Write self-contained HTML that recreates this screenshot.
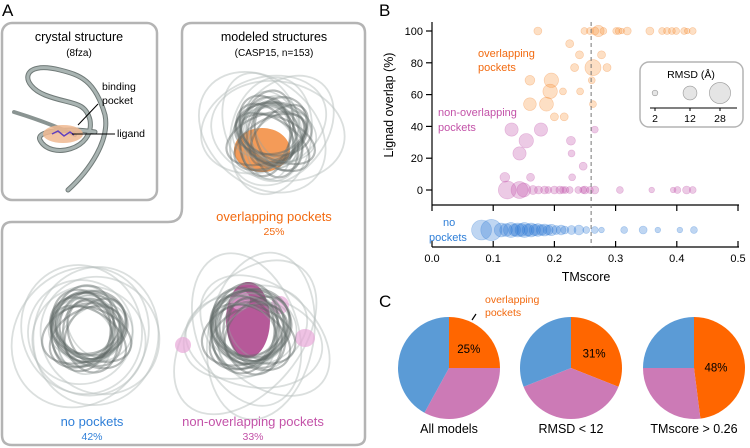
<!DOCTYPE html>
<html><head><meta charset="utf-8"><style>
body{margin:0;background:#fff;}
svg{display:block;font-family:"Liberation Sans",Arial,sans-serif;}
</style></head><body>
<svg id="fig" width="750" height="448" viewBox="0 0 750 448">
<text x="2" y="16" font-size="17">A</text>
<rect x="2" y="23" width="155" height="177" rx="10" fill="none" stroke="#b4b4b4" stroke-width="2.5"/>
<path d="M192,23 H355 Q365,23 365,33 V437 Q365,445 355,445 H12 Q2,445 2,435 V232 Q2,222 12,222 H168 Q182,222 182,208 V33 Q182,23 192,23 Z" fill="none" stroke="#b4b4b4" stroke-width="2.5"/>
<text x="79" y="41" font-size="12.5" text-anchor="middle">crystal structure</text>
<text x="79" y="56" font-size="10" text-anchor="middle">(8fza)</text>
<text x="274" y="41" font-size="12.5" text-anchor="middle">modeled structures</text>
<text x="274" y="56" font-size="10" text-anchor="middle">(CASP15, n=153)</text>
<g fill="none" stroke-linecap="round">
<path d="M68,190 C90,170 110,140 105,115 C95,80 80,75 60,70 C20,60 20,85 45,95 C70,105 85,100 90,120 C95,150 50,160 40,140 C35,130 70,128 95,132" stroke="#707a78" stroke-width="5"/>
<path d="M68,190 C90,170 110,140 105,115 C95,80 80,75 60,70 C20,60 20,85 45,95 C70,105 85,100 90,120 C95,150 50,160 40,140 C35,130 70,128 95,132" stroke="#a9b4b2" stroke-width="3"/>
<path d="M14,112 C40,120 60,128 75,135" stroke="#8a9492" stroke-width="4"/>
</g>
<ellipse cx="63" cy="134" rx="20" ry="9" fill="#f0b890" opacity="0.85"/>
<path d="M52,134 L58,131 L64,136 L70,132 L74,135" stroke="#6040c0" stroke-width="1.5" fill="none"/>
<line x1="78" y1="125" x2="98" y2="104" stroke="#000" stroke-width="1"/>
<line x1="72" y1="134" x2="115" y2="134" stroke="#000" stroke-width="1"/>
<text x="102" y="90" font-size="10.5">binding</text>
<text x="102" y="104" font-size="10.5">pocket</text>
<text x="117" y="137" font-size="10.5">ligand</text>
<g id="bundles"></g>
<text x="274" y="221" font-size="13" fill="#f26a10" text-anchor="middle">overlapping pockets</text>
<text x="274" y="235" font-size="10.5" fill="#f26a10" text-anchor="middle">25%</text>
<text x="92" y="426" font-size="13" fill="#2f7fd8" text-anchor="middle">no pockets</text>
<text x="92" y="440" font-size="10.5" fill="#2f7fd8" text-anchor="middle">42%</text>
<text x="253" y="426" font-size="13" fill="#c352a8" text-anchor="middle">non-overlapping pockets</text>
<text x="253" y="440" font-size="10.5" fill="#c352a8" text-anchor="middle">33%</text>

<text x="379" y="16" font-size="17">B</text>
<g id="scatter"></g>
<text x="379" y="307" font-size="17">C</text>
<g id="pies"></g>
<text x="485" y="303" font-size="10.5" fill="#f26a10">overlapping</text>
<text x="485" y="316" font-size="10.5" fill="#f26a10">pockets</text>
<line x1="472" y1="320" x2="476" y2="314" stroke="#000" stroke-width="1.2"/>
</svg>
<script>
const NS="http://www.w3.org/2000/svg";
function mk(tag,attrs,parent){const e=document.createElementNS(NS,tag);for(const k in attrs)e.setAttribute(k,attrs[k]);parent.appendChild(e);return e;}

const bg=document.getElementById('bundles');
// decorative bundles: [cx, cy, rx, ry]
const bundleDefs=[[272,135,38,55],[88,330,45,55],[250,330,48,58]];
// faint loose loops
const looseDefs=[[272,130,50,70],[90,335,70,65],[255,335,85,55]];
looseDefs.forEach(function(b){
  for(let k=0;k<6;k++){
    const p=mk('ellipse',{cx:b[0]+(k%3-1)*8,cy:b[1]+(k%2?6:-6),rx:b[2]*(0.75+0.06*k),ry:b[3]*(0.8+0.04*k),fill:'none',stroke:'#b8c0be','stroke-width':1.8,opacity:0.5,transform:'rotate('+(k*30-20)+' '+b[0]+' '+b[1]+')'},bg);
    
    
  }
});
const blobs=[[262,150,28,22,'#f07a20',0.75],[248,320,22,38,'#a4307f',0.8],[240,300,10,10,'#e8a8d8',0.7],[280,305,9,9,'#e8a8d8',0.7],[183,345,8,8,'#e8a8d8',0.7],[305,338,10,9,'#e8a8d8',0.7]];
blobs.forEach(function(b){
  const bl=mk('ellipse',{cx:b[0],cy:b[1],rx:b[2],ry:b[3],fill:b[4],opacity:b[5]},bg);
  
  
});
bundleDefs.forEach(function(b){
  for(let k=0;k<22;k++){
    const a=k*0.7, rx=b[2]*(0.55+0.025*(k%8)), ry=b[3]*(0.6+0.03*(k%6));
    const p=mk('ellipse',{cx:b[0]+Math.cos(a)*7,cy:b[1]+Math.sin(a)*7,rx:rx,ry:ry,fill:'none',stroke:k%3?'#5f6967':'#98a2a0','stroke-width':k%3?2.2:1.6,opacity:k%3?0.45:0.4,transform:'rotate('+(k*9-30)+' '+b[0]+' '+b[1]+')'},bg);
    
    
  }
});

const tmOrange=[0.173,0.249,0.258,0.266,0.272,0.280,0.301,0.305,0.310,0.319,0.356,0.376,0.384,0.392,0.399,0.412,0.417,0.426,0.225,0.241,0.277,0.233,0.263,0.286,0.160,0.195,0.261,0.193,0.214,0.242,0.160,0.187,0.263,0.200,0.216];
const ovOrange=[100,100,100,100,100,100,100,100,100,100,100,100,100,100,100,100,100,100,92,85,85,77,77,77,69,69,69,62,62,62,54,54,54,46,46];
const rmsdOrange=[4,3,3,4,8,3,3,3,2,4,4,3,3,3,3,3,2,3,4,4,4,4,16,4,6,13,3,13,3,3,10,12,3,4,4];
const tmPink=[0.130,0.178,0.266,0.154,0.227,0.143,0.228,0.247,0.119,0.161,0.229,0.123,0.143,0.150,0.165,0.174,0.184,0.190,0.200,0.209,0.214,0.218,0.225,0.239,0.247,0.250,0.258,0.266,0.307,0.359,0.394,0.401,0.416,0.426];
const ovPink=[38,38,38,31,31,23,23,15,8,8,8,0,0,0,0,0,0,0,0,0,0,0,0,0,0,0,0,0,0,0,0,0,0,0];
const rmsdPink=[11,11,3,13,5,11,3,4,6,4,3,20,18,12,5,4,4,3,4,4,3,3,3,3,3,4,3,4,3,2,2,3,4,3];
const tmBlue=[0.081,0.097,0.113,0.121,0.129,0.135,0.140,0.146,0.151,0.157,0.162,0.168,0.173,0.179,0.184,0.190,0.195,0.203,0.211,0.217,0.228,0.240,0.252,0.266,0.277,0.314,0.345,0.369,0.405,0.428];
const rmsdBlue=[25,28,12,10,14,9,12,10,14,9,12,8,10,7,9,6,8,5,6,4,5,6,3,3,2,3,4,2,2,3];
const xTicks=[0,0.1,0.2,0.3,0.4,0.5];
const yTicks=[0,20,40,60,80,100];
const legendVals=[2,12,28];
const tmThreshold=0.26;

const X=t=>432+t*612, Y=v=>190-v*1.59, R=r=>2*Math.sqrt(r);
const sg=document.getElementById('scatter');
let e=mk('line',{x1:432,y1:22,x2:432,y2:205,stroke:'#000','stroke-width':1.2},sg);

e=mk('line',{x1:432,y1:205,x2:739,y2:205,stroke:'#000','stroke-width':1.2},sg);

e=mk('line',{x1:432,y1:247,x2:739,y2:247,stroke:'#000','stroke-width':1.2},sg);

xTicks.forEach(t=>{
  mk('line',{x1:X(t),y1:205,x2:X(t),y2:211,stroke:'#000','stroke-width':1.2},sg);
  mk('line',{x1:X(t),y1:241,x2:X(t),y2:247,stroke:'#000','stroke-width':1.2},sg);
  const tx=mk('text',{x:X(t),y:262,'font-size':11,'text-anchor':'middle'},sg);tx.textContent=t.toFixed(1);
  
  
});
yTicks.forEach(v=>{
  mk('line',{x1:426,y1:Y(v),x2:432,y2:Y(v),stroke:'#000','stroke-width':1.2},sg);
  const tx=mk('text',{x:423,y:Y(v)+4,'font-size':11,'text-anchor':'end'},sg);tx.textContent=v;
  
  
});
e=mk('text',{x:586,y:281,'font-size':12.5,'text-anchor':'middle'},sg);e.textContent='TMscore';

e=mk('text',{x:0,y:0,'font-size':12.5,'text-anchor':'middle',transform:'translate(393,105) rotate(-90)'},sg);e.textContent='Lignad overlap (%)';

function dots(tms,ys,rs,fill,stroke,name){
  tms.forEach((t,i)=>{
    const c=mk('circle',{cx:X(t),cy:ys?Y(ys[i]):230,r:R(rs[i]),fill:fill,'fill-opacity':0.3,stroke:stroke,'stroke-opacity':0.35,'stroke-width':0.6},sg);
    
    
  });
}
dots(tmBlue,null,rmsdBlue,'#2a78d4','#2a78d4','no-pocket-point');
dots(tmPink,ovPink,rmsdPink,'#c050a8','#c050a8','non-overlapping-point');
dots(tmOrange,ovOrange,rmsdOrange,'#f7943a','#f07a20','overlapping-point');
e=mk('line',{x1:X(tmThreshold),y1:22,x2:X(tmThreshold),y2:247,stroke:'#777','stroke-width':1,'stroke-dasharray':'4,3'},sg);

[['overlapping',478,57,'#f26a10'],['pockets',478,71,'#f26a10'],['non-overlapping',438,116,'#c352a8'],['pockets',438,131,'#c352a8'],['no',443,226,'#2f7fd8'],['pockets',429,241,'#2f7fd8']].forEach(l=>{
  const t=mk('text',{x:l[1],y:l[2],'font-size':11,fill:l[3]},sg);t.textContent=l[0];
  
  
});
const lg=mk('g',{},sg);


mk('rect',{x:640,y:62,width:103,height:65,rx:9,fill:'#fff',stroke:'#b4b4b4','stroke-width':1.5},lg);
e=mk('text',{x:691,y:78,'font-size':10.5,'text-anchor':'middle'},lg);e.textContent='RMSD (Å)';
const lx=[655,690,720];
legendVals.forEach((v,i)=>{
  mk('circle',{cx:lx[i],cy:93,r:R(v),fill:'#ccc','fill-opacity':0.5,stroke:'#999','stroke-width':0.6},lg);
  mk('line',{x1:lx[i],y1:108,x2:lx[i],y2:111,stroke:'#000'},lg);
  const t=mk('text',{x:lx[i],y:122,'font-size':10.5,'text-anchor':'middle'},lg);t.textContent=v;
});
mk('line',{x1:650,y1:108,x2:737,y2:108,stroke:'#000','stroke-width':1},lg);

const pieNames=['All models','RMSD < 12','TMscore > 0.26'];
const pieOrange=[25,31,48];
const piePink=[33,38,27];
const pieBlue=[42,31,25];
const pieCx=[449,571,694];
const pg=document.getElementById('pies');
pieNames.forEach((n,i)=>{
  const vals=[pieOrange[i],piePink[i],pieBlue[i]], cols=['#ff6600','#cc7ab6','#5b9bd6'], names=['orange','pink','blue'];
  let a=0;const cx=pieCx[i],cy=368,r=51;
  vals.forEach((v,j)=>{
    const a2=a+v/100*2*Math.PI;
    const x1=cx+r*Math.sin(a),y1=cy-r*Math.cos(a),x2=cx+r*Math.sin(a2),y2=cy-r*Math.cos(a2);
    const p=mk('path',{d:`M${cx},${cy} L${x1},${y1} A${r},${r} 0 ${v>50?1:0} 1 ${x2},${y2} Z`,fill:cols[j]},pg);
    
    
    a=a2;
  });
  const mid=pieOrange[i]/200*2*Math.PI, rr=i==2?22:28;
  const t=mk('text',{x:cx+rr*Math.sin(mid),y:cy-rr*Math.cos(mid)+5,'font-size':11.5,'text-anchor':'middle'},pg);t.textContent=pieOrange[i]+'%';
  
  
  const tt=mk('text',{x:cx,y:433,'font-size':12.5,'text-anchor':'middle'},pg);tt.textContent=n;
  
  
});
</script>
</body></html>
